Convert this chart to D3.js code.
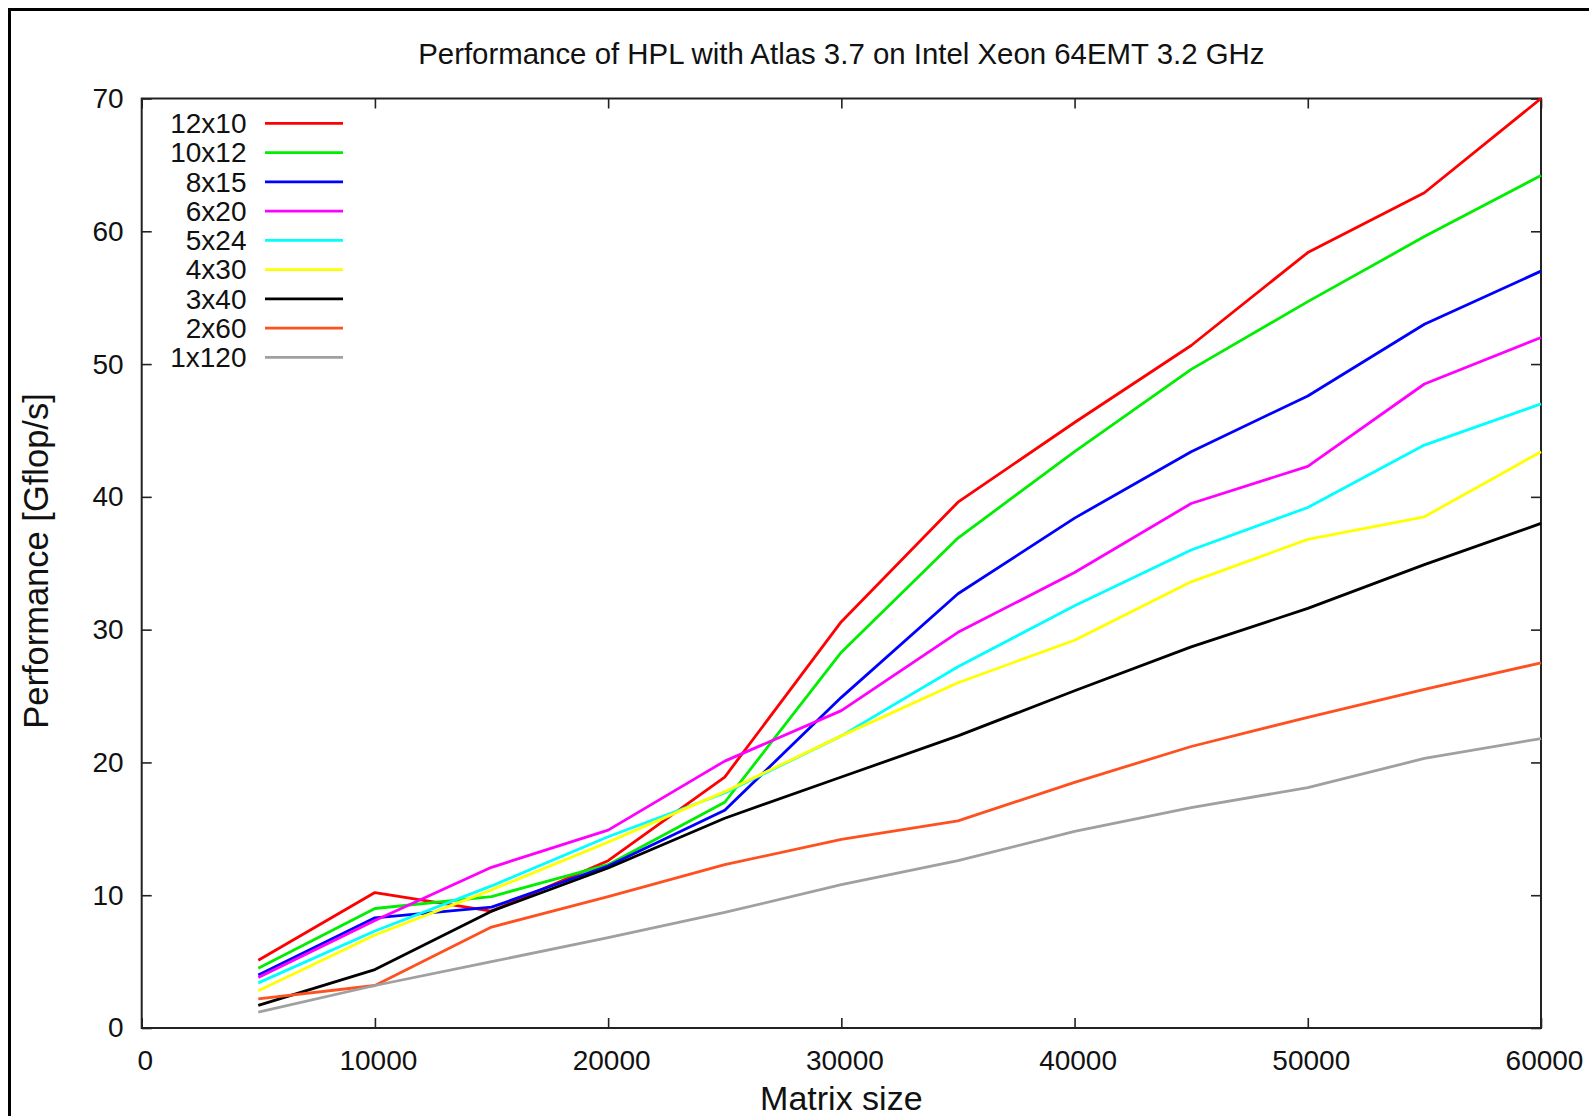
<!DOCTYPE html>
<html>
<head>
<meta charset="utf-8">
<script src="https://cdn.jsdelivr.net/npm/d3@7"></script>
<style>
html,body{margin:0;padding:0;background:#fff;}
svg{display:block;}
text{font-family:"Liberation Sans",Arial,Helvetica,sans-serif;fill:#111;}
</style>
</head>
<body>
<svg id="chart" width="1589" height="1116"></svg>
<script>
const matrixSizes = [5000,10000,15000,20000,25000,30000,35000,40000,45000,50000,55000,60000];
const seriesNames = ["12x10","10x12","8x15","6x20","5x24","4x30","3x40","2x60","1x120"];
const seriesColors = ["#ff0000","#00ee00","#0000ff","#ff00ff","#00ffff","#ffff00","#000000","#ff5020","#a0a0a0"];
const perf12x10 = [5.1,10.2,8.8,12.6,18.9,30.6,39.6,45.6,51.4,58.4,62.9,70.0];
const perf10x12 = [4.5,9.0,9.9,12.3,17.0,28.3,36.9,43.4,49.6,54.7,59.6,64.2];
const perf8x15  = [4.0,8.3,9.1,12.2,16.4,24.9,32.7,38.4,43.4,47.6,53.0,57.0];
const perf6x20  = [3.8,8.1,12.1,14.9,20.1,23.9,29.8,34.3,39.5,42.3,48.5,52.0];
const perf5x24  = [3.4,7.3,10.7,14.4,17.7,22.0,27.2,31.8,36.0,39.2,43.9,47.0];
const perf4x30  = [2.8,7.0,10.4,14.0,17.8,22.0,26.0,29.2,33.6,36.8,38.5,43.4];
const perf3x40  = [1.7,4.4,8.8,12.05,15.8,18.9,22.0,25.4,28.7,31.6,34.9,38.0];
const perf2x60  = [2.2,3.2,7.6,9.9,12.3,14.2,15.6,18.5,21.2,23.4,25.5,27.5];
const perf1x120 = [1.2,3.2,5.0,6.8,8.7,10.8,12.6,14.8,16.6,18.1,20.3,21.8];
const seriesValues = [perf12x10,perf10x12,perf8x15,perf6x20,perf5x24,perf4x30,perf3x40,perf2x60,perf1x120];
const xTicks = [0,10000,20000,30000,40000,50000,60000];
const yTicks = [0,10,20,30,40,50,60,70];
const titleText = "Performance of HPL with Atlas 3.7 on Intel Xeon 64EMT 3.2 GHz";
const xLabel = "Matrix size";
const yLabel = "Performance [Gflop/s]";

const svg = d3.select("#chart");
const L = 141.7, R = 1541, T = 98.5, B = 1028;
const x = d3.scaleLinear().domain([0,60000]).range([L,R]);
const y = d3.scaleLinear().domain([0,70]).range([B,T]);

// outer frame
svg.append("rect").attr("x",9.5).attr("y",9.5).attr("width",1640).attr("height",1200)
  .attr("fill","none").attr("stroke","#000").attr("stroke-width",3);

// title
svg.append("text").attr("x",(L+R)/2).attr("y",64).attr("text-anchor","middle")
  .style("font-size","29.4px").text(titleText);

const axisColor = "#222";
const tickLen = 10;
const gx = svg.append("g").attr("transform",`translate(0,${B})`)
  .call(d3.axisBottom(x).tickValues(xTicks).tickFormat(d3.format("d")).tickSize(-tickLen).tickPadding(0));
gx.selectAll("text").attr("dy",0).attr("y",42).attr("dx",3).style("font-size","28px").style("fill","#111");
const gxt = svg.append("g").attr("transform",`translate(0,${T})`)
  .call(d3.axisTop(x).tickValues(xTicks).tickFormat("").tickSize(-tickLen));
const gy = svg.append("g").attr("transform",`translate(${L},0)`)
  .call(d3.axisLeft(y).tickValues(yTicks).tickFormat(d3.format("d")).tickSize(-tickLen).tickPadding(18));
gy.selectAll("text").style("font-size","28px").style("fill","#111");
const gyr = svg.append("g").attr("transform",`translate(${R},0)`)
  .call(d3.axisRight(y).tickValues(yTicks).tickFormat("").tickSize(-tickLen));
[gx,gxt,gy,gyr].forEach(g=>{
  g.select(".domain").remove();
  g.selectAll(".tick line").attr("stroke",axisColor).attr("stroke-width",1.6);
  g.attr("font-family",null).attr("font-size",null);
});
svg.append("rect").attr("x",L).attr("y",T).attr("width",R-L).attr("height",B-T)
  .attr("fill","none").attr("stroke",axisColor).attr("stroke-width",2);

// axis labels
svg.append("text").attr("x",(L+R)/2).attr("y",1110).attr("text-anchor","middle")
  .style("font-size","34px").text(xLabel);
svg.append("text").attr("transform","translate(48,561) rotate(-90)").attr("text-anchor","middle")
  .style("font-size","34.5px").text(yLabel);

// lines
const line = d3.line().x((d,i)=>x(matrixSizes[i])).y(d=>y(d));
const clipId = "plotclip";
svg.append("clipPath").attr("id",clipId).append("rect")
  .attr("x",L-2).attr("y",T-2).attr("width",R-L+4).attr("height",B-T+4);
const gl = svg.append("g").attr("clip-path",`url(#${clipId})`);
seriesValues.forEach((vals,k)=>{
  gl.append("path").datum(vals).attr("d",line).attr("fill","none")
    .attr("stroke",seriesColors[k]).attr("stroke-width",2.8).attr("stroke-linejoin","round");
});

// legend
const lg = svg.append("g");
seriesNames.forEach((n,k)=>{
  const yy = 123.3 + k*29.25;
  lg.append("text").attr("x",246.5).attr("y",yy).attr("dy","0.35em").attr("text-anchor","end")
    .style("font-size","28px").text(n);
  lg.append("line").attr("x1",265).attr("x2",343).attr("y1",yy).attr("y2",yy)
    .attr("stroke",seriesColors[k]).attr("stroke-width",2.8);
});
</script>
</body>
</html>
